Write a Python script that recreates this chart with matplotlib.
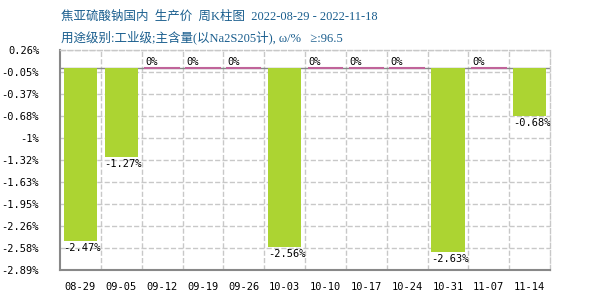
import numpy as np
import matplotlib
matplotlib.use('Agg')
import matplotlib.pyplot as plt

plt.rcParams['font.family'] = ['Noto Sans CJK SC', 'DejaVu Sans']

# 数据
dates = ['08-29', '09-05', '09-12', '09-19', '09-26', '10-03',
         '10-10', '10-17', '10-24', '10-31', '11-07', '11-14']
changes = [-2.47, -1.27, 0, 0, 0, -2.56, 0, 0, 0, -2.63, 0, -0.68]
ytick_vals = [0.26, -0.055, -0.37, -0.685, -1.0, -1.315, -1.63, -1.945, -2.26, -2.575, -2.89]
ytick_labels = ['0.26%', '-0.05%', '-0.37%', '-0.68%', '-1%', '-1.32%',
                '-1.63%', '-1.95%', '-2.26%', '-2.58%', '-2.89%']
title1 = '焦亚硫酸钠国内  生产价  周K柱图  2022-08-29 - 2022-11-18'
title2 = '用途级别:工业级;主含量(以Na2S205计), ω/%   ≥:96.5'

bar_color = '#acd432'
zero_color = '#c0649a'
grid_color = '#c8c8c8'
axis_color = '#888888'
mono = 'DejaVu Sans Mono'

fig = plt.figure(figsize=(6, 3), dpi=100)
ax = fig.add_axes([0.1, 0.1, 0.8167, 0.7333])

x = np.arange(len(dates))
w = 0.82
for xi, v in zip(x, changes):
    if v == 0:
        # 0值柱用粉色横线表示
        ax.plot([xi - w / 2, xi + w / 2], [0, 0], color=zero_color, lw=1.5, zorder=4)
        ax.text(xi - w / 2, 0.02, '0%', ha='left', va='bottom', fontsize=7.5, family=mono)
    else:
        ax.bar(xi, v, width=w, color=bar_color, zorder=3)
        ax.text(xi - w / 2, v - 0.03, '%.2f%%' % v, ha='left', va='top', fontsize=7.5, family=mono)

ax.axhline(0, color=axis_color, lw=1, zorder=2)

ax.set_xlim(-0.5, len(dates) - 0.5)
ax.set_ylim(-2.89, 0.26)
ax.set_xticks(x)
ax.set_xticklabels(dates, family=mono, fontsize=7.5)
ax.set_xticks(np.arange(0.5, len(dates) - 0.5, 1), minor=True)
ax.set_yticks(ytick_vals)
ax.set_yticklabels(ytick_labels, family=mono, fontsize=7.5)
ax.tick_params(axis='x', which='both', length=0, pad=9)
ax.tick_params(axis='y', length=0, pad=15)

ax.grid(True, axis='y', which='major', ls='--', color=grid_color, lw=1, zorder=0)
ax.grid(True, axis='x', which='minor', ls='--', color=grid_color, lw=1, zorder=0)
for s in ['left', 'bottom']:
    ax.spines[s].set_color(axis_color)
    ax.spines[s].set_linewidth(1.5)
for s in ['top', 'right']:
    ax.spines[s].set_color(grid_color)
    ax.spines[s].set_linestyle('--')
    ax.spines[s].set_linewidth(1)

fig.text(61 / 600, 1 - 17 / 300, title1, color='#1a5e8e', fontsize=9, va='center', ha='left',
         family=['Liberation Serif', 'Noto Sans CJK SC'])
fig.text(61 / 600, 1 - 37 / 300, title2, color='#1a5e8e', fontsize=9, va='center', ha='left',
         family=['Liberation Serif', 'Noto Sans CJK SC'])

fig.savefig('out.png', dpi=100)
